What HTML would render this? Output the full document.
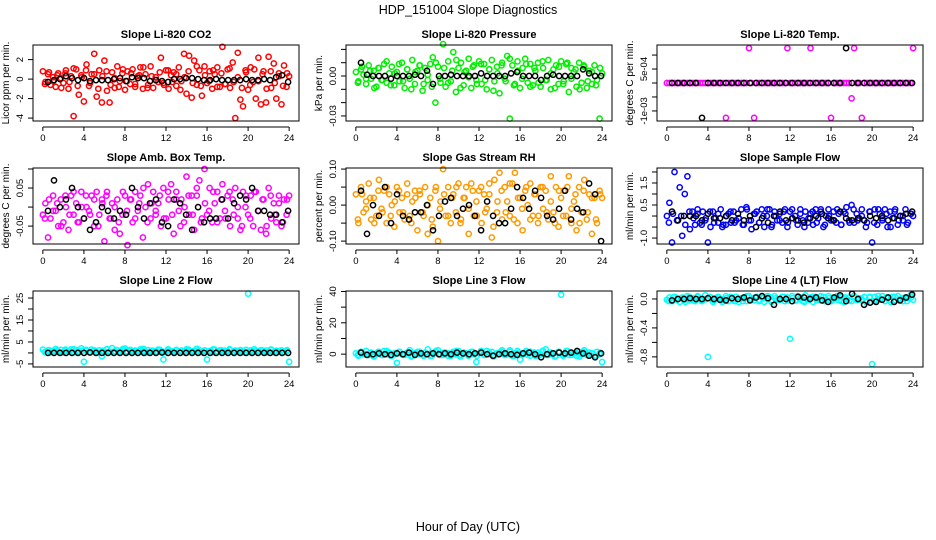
<!DOCTYPE html>
<html><head><meta charset="utf-8"><title>HDP_151004 Slope Diagnostics</title>
<style>html,body{margin:0;padding:0;background:#fff}svg{display:block;font-family:"Liberation Sans",sans-serif}</style>
</head><body>
<svg id="chart" width="936" height="540" viewBox="0 0 936 540" xmlns="http://www.w3.org/2000/svg">
<rect x="0" y="0" width="936" height="540" fill="#fff"/>
<text x="468" y="14" text-anchor="middle" font-size="12.5">HDP_151004  Slope Diagnostics</text>
<text x="468" y="531" text-anchor="middle" font-size="12.5">Hour of Day (UTC)</text>
</svg>
<script>
const hourTicks=[0,4,8,12,16,20,24];
const co2Color=[0.8,-0.3,0.5,-0.6,0.2,-0.8,0.6,0.1,-0.4,0.9,-1.0,0.3,-3.8,1.0,-1.6,0.4,-2.3,1.5,-0.7,0.5,2.6,-1.8,0.9,-2.4,1.9,-1.2,-2.4,0.7,-0.9,1.3,-0.2,0.6,-1.1,0.8,-0.5,1.0,-0.8,0.3,1.2,-1.0,0.5,-0.6,1.3,-0.9,0.2,-0.3,2.2,-0.4,0.9,-1.0,0.4,0.7,-0.7,1.2,-0.2,2.6,-1.5,2.4,-1.9,1.9,-0.6,0.9,-1.7,1.3,-0.4,0.8,-1.0,0.5,1.2,-0.8,3.3,-0.5,1.0,-0.9,1.7,-4.0,2.7,-2.1,-2.8,0.9,-1.1,1.2,-0.3,-2.0,2.2,-2.6,0.8,-2.4,2.3,-0.9,1.6,-2.0,0.6,-2.6,1.4,-0.8,0.3];
const co2Color2=[-0.5,0.7,-0.2,0.4,-0.9,0.6,-0.3,1.1,-0.7,0.2,0.9,-0.4,0.5,-1.0,0.3,0.8,-0.6,0.1,-0.8,1.0,-0.2,0.6,-0.5,0.4,1.2,-0.9,0.3,-0.1,0.7,-0.6,0.9,-0.3,0.5,-1.1,0.2,0.8,-0.4,1.3,-0.7,0.4,-0.2,0.9,-0.8,0.6,-0.5,1.1,-0.3,0.2,-0.9,0.7,-0.6,1.0,-0.2,0.5,-1.0,0.8,-0.4,0.3,-0.7,0.6];
const co2Black=[-0.3,-0.1,0.0,0.3,0.1,-0.1,0.1,-0.2,-0.1,-0.1,-0.1,0.0,0.1,-0.2,0.2,0.1,0.1,-0.2,-0.1,-0.2,-0.3,0.0,0.0,0.1,0.1,0.0,-0.1,-0.1,0.0,-0.1,-0.1,-0.1,-0.1,0.0,-0.1,-0.1,0.0,-0.1,0.2,0.4,-0.3];
const pressColor=[0.003,-0.004,0.005,0.001,-0.006,0.008,-0.002,0.004,-0.008,0.006,-0.003,0.009,-0.005,0.002,0.007,-0.007,0.003,-0.004,0.010,-0.009,0.005,-0.002,0.012,-0.006,0.004,0.008,-0.011,0.006,-0.003,0.009,0.014,-0.020,0.007,-0.005,0.024,-0.008,0.011,-0.004,0.018,-0.012,0.006,0.010,-0.007,0.004,0.013,-0.009,0.008,-0.003,0.011,-0.006,0.009,-0.010,0.005,0.012,-0.004,0.007,-0.013,0.010,-0.002,0.015,-0.032,0.008,-0.006,0.011,-0.009,0.006,0.013,-0.005,0.009,-0.007,0.004,0.010,-0.008,0.006,-0.003,0.012,-0.010,0.005,0.008,-0.006,0.011,-0.004,0.009,-0.012,0.006,0.003,-0.008,0.010,-0.005,0.007,-0.009,0.004,-0.006,0.008,-0.003,-0.032,0.002];
const pressColor2=[-0.005,0.007,-0.002,0.004,-0.009,0.006,-0.003,0.011,-0.007,0.002,0.009,-0.004,0.005,-0.010,0.003,0.008,-0.006,0.001,-0.008,0.010,-0.002,0.006,-0.005,0.004,0.012,-0.009,0.003,-0.001,0.007,-0.006,0.009,-0.003,0.005,-0.011,0.002,0.008,-0.004,0.013,-0.007,0.004,-0.002,0.009,-0.008,0.006,-0.005,0.011,-0.003,0.002,-0.009,0.007,-0.006,0.010,-0.002,0.005,-0.010,0.008,-0.004,0.003,-0.007,0.006];
const pressBlack=[0.010,0.001,0.000,0.000,0.000,-0.002,0.000,0.000,0.000,0.001,0.000,0.004,-0.006,0.000,0.000,0.001,0.000,0.000,0.000,0.000,0.002,0.000,0.000,0.000,0.000,0.002,0.003,0.000,0.000,0.000,-0.003,0.000,0.001,0.000,0.000,0.000,0.000,0.005,0.002,0.000,0.000];
const tempColor=[0,0,0,0,0,0,0,0,0,0, 0,0,0,0,0,0,0,0,0,0, 0,0,0,-1.25e-3,0,0,0,0,0,0, 0,0,1.25e-3,0,-1.25e-3,0,0,0,0,0, 0,0,0,0,0,0,0,1.25e-3,0,0, 0,0,0,0,0,0,1.25e-3,0,0,0, 0,0,0,0,-1.25e-3,0,0,0,0,0, 0,0,-5.5e-4,1.25e-3,0,0,-1.25e-3,0,0,0, 0,0,0,0,0,0,0,0,0,0, 0,0,0,0,0,0,1.25e-3];
const tempColor2=[];
const tempBlack=[0,0,0,0,0,-1.25e-3,0,0,0,0, 0,0,0,0,0,0,0,0,0,0, 0,0,0,0,0,0,0,0,0,1.25e-3, 0,0,0,0,0,0,0,0,0,0,0];
const ambColor=[-0.02,0.01,-0.08,-0.03,0.03,-0.01,-0.05,0.02,-0.04,0.00,-0.06,0.03,-0.02,0.01,-0.04,0.04,-0.03,0.00,-0.01,0.03,-0.05,0.04,-0.02,0.02,-0.09,0.04,-0.03,0.01,-0.06,0.02,-0.07,-0.02,0.03,-0.10,0.02,-0.04,0.04,-0.01,0.03,-0.08,0.00,0.06,-0.03,0.04,-0.02,0.01,-0.05,0.05,-0.03,0.02,0.06,-0.07,0.04,-0.01,0.02,-0.04,0.08,-0.02,0.03,-0.06,0.03,0.07,-0.03,0.10,-0.02,0.05,-0.04,0.01,0.04,-0.03,0.06,-0.01,0.03,-0.05,0.02,0.05,-0.03,-0.06,0.04,0.00,-0.02,0.03,-0.05,0.04,-0.01,-0.06,0.02,-0.07,0.05,-0.03,0.01,-0.04,0.03,-0.05,0.02,-0.02,0.03];
const ambColor2=[-0.03,0.02,-0.01,0.01,-0.05,0.03,-0.02,0.04,-0.04,0.00,0.03,-0.02,0.02,-0.05,0.01,0.03,-0.03,0.00,-0.04,0.04,-0.01,0.02,-0.03,0.01,0.05,-0.04,0.01,-0.01,0.03,-0.03,0.04,-0.02,0.02,-0.05,0.00,0.03,-0.02,0.05,-0.04,0.01,-0.01,0.04,-0.04,0.02,-0.03,0.04,-0.02,0.00,-0.05,0.03,-0.03,0.04,-0.01,0.02,-0.05,0.03,-0.02,0.01,-0.04,0.02];
const ambBlack=[-0.01,0.07,0.00,0.02,0.05,0.00,-0.03,-0.06,-0.04,0.00,-0.01,-0.03,-0.01,-0.02,0.05,0.00,-0.03,0.01,0.02,-0.04,-0.05,0.02,0.01,-0.02,-0.06,0.00,-0.04,-0.03,-0.03,0.02,-0.03,0.01,0.03,0.02,0.05,-0.01,-0.01,-0.02,-0.02,-0.04,-0.01];
const rhColor=[0.03,-0.05,0.05,-0.02,0.01,0.06,-0.04,0.02,-0.03,0.07,-0.01,0.04,-0.05,0.03,0.00,-0.06,0.05,-0.02,0.02,-0.04,0.06,-0.03,0.01,0.04,-0.07,0.03,-0.02,0.05,-0.08,0.02,-0.06,0.04,-0.10,0.01,0.10,-0.03,0.05,-0.05,0.03,-0.02,0.06,-0.04,0.02,0.05,-0.08,0.06,-0.03,0.01,0.04,-0.05,0.03,-0.01,0.06,-0.09,0.07,-0.02,0.09,-0.04,0.05,0.01,-0.03,0.06,0.09,-0.05,0.02,-0.07,0.04,0.00,0.06,-0.03,0.03,-0.05,0.05,-0.01,0.04,-0.04,0.08,-0.02,0.05,-0.06,0.02,0.04,-0.03,0.08,-0.05,0.01,-0.07,0.05,-0.02,0.07,-0.04,0.03,-0.08,0.02,-0.05,0.04,0.02];
const rhColor2=[-0.04,0.03,-0.01,0.02,-0.05,0.04,-0.02,0.05,-0.03,0.01,0.04,-0.02,0.03,-0.05,0.02,0.04,-0.03,0.00,-0.04,0.05,-0.01,0.03,-0.03,0.02,0.05,-0.05,0.02,-0.01,0.04,-0.03,0.05,-0.02,0.03,-0.06,0.01,0.04,-0.02,0.06,-0.04,0.02,-0.01,0.05,-0.04,0.03,-0.03,0.05,-0.02,0.01,-0.05,0.04,-0.03,0.05,-0.01,0.03,-0.05,0.04,-0.02,0.02,-0.04,0.03];
const rhBlack=[0.04,-0.08,0.00,-0.03,0.05,-0.05,0.03,-0.03,-0.04,-0.02,-0.02,0.00,-0.07,-0.03,0.01,0.02,-0.03,-0.01,0.00,-0.03,-0.07,0.01,-0.03,-0.05,-0.05,-0.01,0.05,0.02,-0.01,0.04,0.02,-0.03,-0.04,-0.01,0.04,-0.04,-0.01,-0.02,0.06,0.03,-0.10];
const flowColor=[0.0,0.6,-1.2,2.0,-0.2,1.3,-0.9,1.0,1.8,-0.6,0.2,-0.4,0.1,-0.3,0.2,-0.2,-1.2,-0.5,0.2,-0.1,-0.3,0.3,-0.4,-0.4,0.1,-0.3,0.2,-0.2,-0.1,0.3,-0.4,0.4,-0.2,-0.6,0.1,0.2,-0.3,0.3,-0.5,0.0,0.3,-0.4,0.2,-0.2,0.1,-0.3,0.3,-0.5,0.2,-0.1,0.0,-0.4,0.3,-0.2,0.2,-0.3,0.1,-0.4,0.3,-0.1,0.2,-0.5,0.0,0.3,-0.2,0.2,-0.3,0.1,-0.4,0.2,0.4,-0.2,0.5,-0.3,0.1,-0.1,0.3,-0.2,-0.3,0.2,-1.2,0.3,-0.4,0.1,-0.2,0.3,-0.5,0.2,-0.1,0.3,-0.4,0.0,-0.2,0.3,-0.3,0.1,0.0];
const flowColor2=[-0.3,0.1,-0.2,0.0,-0.4,0.2,-0.1,0.3,-0.4,-0.1,0.2,-0.3,0.1,-0.5,0.0,0.2,-0.3,-0.1,-0.4,0.3,-0.2,0.1,-0.3,0.0,0.3,-0.5,0.0,-0.2,0.2,-0.3,0.3,-0.2,0.1,-0.5,-0.1,0.2,-0.3,0.3,-0.4,0.0,-0.2,0.3,-0.4,0.1,-0.3,0.3,-0.2,0.0,-0.5,0.2,-0.3,0.3,-0.1,0.1,-0.5,0.2,-0.2,0.0,-0.4,0.1];
const flowBlack=[0.2,-0.2,0.0,0.0,0.0,-0.2,0.1,-0.1,-0.1,0.0,-0.2,0.1,-0.2,0.0,-0.5,-0.1,-0.3,0.0,0.2,-0.2,-0.1,-0.2,-0.3,-0.1,0.0,0.1,-0.1,-0.2,0.2,-0.1,-0.2,-0.1,-0.2,0.0,-0.1,0.0,-0.2,-0.1,0.0,0.1,0.2];
const line2Color=[1.5,0.5,1.2,0.3,1.0,1.8,0.6,1.4,0.2,1.1,0.8,1.6,0.4,1.3,0.7,2.1,-4.0,1.0,0.3,1.5,0.9,0.2,1.2,-1.5,0.6,1.7,0.4,2.2,0.8,1.3,0.5,1.0,2.0,0.3,1.4,0.7,1.1,0.2,1.6,0.9,0.4,1.3,0.6,1.0,0.3,1.5,0.8,-3.0,0.5,1.2,0.9,0.3,1.4,0.7,1.1,0.4,1.6,0.8,0.2,1.0,0.6,1.3,0.4,1.1,-3.0,0.9,0.3,1.5,0.7,1.2,0.5,1.0,0.8,1.4,0.3,1.1,0.6,1.3,0.9,0.4,27.0,1.2,0.5,1.0,0.8,1.3,0.4,1.1,0.7,1.5,0.3,1.0,0.6,1.2,0.4,0.8,-4.0];
const line2Color2=[0.4,1.3,0.8,1.0,0.2,1.5,0.6,1.7,0.3,0.9,1.4,0.5,1.2,0.1,1.0,1.6,0.4,0.8,0.3,1.8,0.7,1.1,0.5,1.0,1.9,0.2,1.0,0.7,1.4,0.5,1.6,0.6,1.2,0.1,0.9,1.5,0.5,1.9,0.3,1.1,0.7,1.6,0.3,1.2,0.5,1.7,0.6,0.9,0.2,1.4,0.4,1.7,0.8,1.1,0.2,1.5,0.6,0.9,0.3,1.3];
const line2Black=[0,0,0,0,0,0,0,0.2,0,0,0,0,0,0,0,0,0,0,0,0.2,0,0,0,0,0,0,0,0,0,0,0,0,0,0,0,0,0,0,0,0,0];
const line3Color=[0.5,-1.0,1.5,0.0,2.0,-0.5,1.0,-1.5,0.5,1.5,-0.5,2.0,0.0,1.0,-1.0,0.5,-5.5,1.5,0.0,-0.5,1.0,2.5,-1.0,0.5,1.5,0.0,-0.5,1.0,3.0,-1.0,0.5,1.5,2.5,0.0,-0.5,1.0,0.5,-1.0,1.5,0.0,2.0,-0.5,1.0,0.5,-1.0,1.5,0.0,-5.0,0.5,1.0,-0.5,2.0,0.0,1.5,-1.0,0.5,1.0,2.5,-0.5,0.0,1.5,-1.0,0.5,2.0,-3.5,0.0,1.0,-0.5,1.5,0.5,-1.0,1.0,0.0,2.0,3.0,-0.5,1.0,0.5,-1.0,1.5,38.0,0.0,2.0,-0.5,1.0,0.5,-1.0,1.5,0.0,2.5,-0.5,1.0,0.5,-1.0,1.5,0.0,-5.0];
const line3Color2=[-0.5,1.0,0.0,0.5,-1.0,1.5,-0.5,2.0,-1.0,0.0,1.5,-0.5,1.0,-1.5,0.5,1.5,-1.0,0.0,-1.0,2.0,-0.5,1.0,-1.0,0.5,2.0,-1.5,0.5,-0.5,1.5,-1.0,2.0,-0.5,1.0,-1.5,0.0,1.5,-0.5,2.5,-1.0,0.5,-0.5,2.0,-1.0,1.0,-1.0,2.0,-0.5,0.0,-1.5,1.5,-1.0,2.0,-0.5,1.0,-1.5,1.5,-0.5,0.5,-1.0,1.0];
const line3Black=[1.0,-0.5,0.0,0.5,0.0,-0.5,0.5,0.0,1.0,-0.5,0.5,0.0,0.5,0.0,0.5,0.0,1.0,0.5,0.0,0.5,1.0,0.0,-1.0,0.0,0.5,0.0,-0.5,0.5,1.0,0.0,-2.0,0.0,0.5,1.0,0.5,1.0,2.0,0.5,-1.0,-2.0,0.5];
const line4Color=[-0.01,0.02,-0.03,0.03,0.00,-0.04,0.02,-0.01,0.04,-0.02,0.01,-0.03,0.03,0.00,-0.02,0.05,-0.80,0.02,-0.04,0.01,0.03,-0.02,0.00,0.04,-0.03,0.02,-0.01,0.03,-0.04,0.01,0.02,-0.03,0.04,0.00,-0.02,0.03,-0.01,0.02,-0.04,0.01,0.03,-0.02,0.04,-0.01,0.00,0.03,-0.03,0.02,-0.55,0.01,-0.02,0.04,0.00,-0.03,0.05,-0.01,0.02,-0.04,0.03,0.00,-0.02,0.03,-0.01,0.04,-0.03,0.01,0.02,-0.02,0.03,-0.04,0.00,0.02,-0.03,0.04,-0.01,0.01,-0.02,0.03,-0.04,0.02,-0.90,0.03,-0.02,0.00,0.04,-0.03,0.01,-0.01,0.03,-0.02,0.04,0.00,-0.03,0.02,0.01,0.05,-0.01];
const line4Color2=[-0.03,0.02,-0.01,0.01,-0.04,0.03,-0.02,0.04,-0.03,0.00,0.03,-0.02,0.02,-0.04,0.01,0.03,-0.03,0.00,-0.03,0.04,-0.01,0.02,-0.03,0.01,0.04,-0.04,0.01,-0.01,0.03,-0.02,0.04,-0.02,0.02,-0.04,0.00,0.03,-0.02,0.04,-0.03,0.01,-0.01,0.04,-0.03,0.02,-0.02,0.04,-0.01,0.00,-0.04,0.03,-0.03,0.04,-0.01,0.02,-0.04,0.03,-0.02,0.01,-0.03,0.02];
const line4Black=[-0.02,0.00,0.00,0.01,0.00,0.00,0.01,0.00,-0.01,-0.02,0.01,0.00,0.02,-0.02,0.02,0.04,0.01,-0.08,0.00,0.00,-0.03,0.03,0.02,0.00,0.02,-0.02,-0.04,0.02,0.05,-0.03,0.07,0.00,-0.08,-0.05,-0.04,-0.01,0.02,-0.04,-0.02,0.02,0.06];

const panels=[
 {name:'co2',title:'Slope Li-820 CO2',ylab:'Licor ppm per min.',color:'#ff0000',vals:co2Color,vals2:co2Color2,blk:co2Black,x:33,y:45,ylim:[-4.3,3.5],ticks:[-4,-2,0,2],labels:['-4','-2','0','2']},
 {name:'pressure',title:'Slope Li-820 Pressure',ylab:'kPa per min.',color:'#00ee00',vals:pressColor,vals2:pressColor2,blk:pressBlack,x:346,y:45,ylim:[-0.0338,0.0233],ticks:[-0.03,-0.02,-0.01,0,0.01,0.02],labels:['-0.03','','','0.00','','']},
 {name:'temp',title:'Slope Li-820 Temp.',ylab:'degrees C per min.',color:'#ff00ff',vals:tempColor,vals2:tempColor2,blk:tempBlack,x:657,y:45,ylim:[-1.36e-3,1.36e-3],ticks:[-1e-3,-5e-4,0,5e-4,1e-3],labels:['-1e-03','','','5e-04','']},
 {name:'amb-box-temp',title:'Slope Amb. Box Temp.',ylab:'degrees C per min.',color:'#ff00ff',vals:ambColor,vals2:ambColor2,blk:ambBlack,x:33,y:168,ylim:[-0.097,0.1026],ticks:[-0.05,0,0.05,0.1],labels:['-0.05','','0.05','']},
 {name:'gas-stream-rh',title:'Slope Gas Stream RH',ylab:'percent per min.',color:'#ff9900',vals:rhColor,vals2:rhColor2,blk:rhBlack,x:346,y:168,ylim:[-0.108,0.103],ticks:[-0.1,-0.05,0,0.05,0.1],labels:['-0.10','','0.00','','0.10']},
 {name:'sample-flow',title:'Slope Sample Flow',ylab:'ml/min per min.',color:'#0000ff',vals:flowColor,vals2:flowColor2,blk:flowBlack,x:657,y:168,ylim:[-1.27,2.18],ticks:[-1,-0.5,0,0.5,1,1.5,2],labels:['-1.0','','','0.5','','1.5','']},
 {name:'line2-flow',title:'Slope Line 2 Flow',ylab:'ml/min per min.',color:'#00ffff',vals:line2Color,vals2:line2Color2,blk:line2Black,x:33,y:291,ylim:[-6.4,28.2],ticks:[-5,0,5,10,15,20,25],labels:['-5','','5','','15','','25']},
 {name:'line3-flow',title:'Slope Line 3 Flow',ylab:'ml/min per min.',color:'#00ffff',vals:line3Color,vals2:line3Color2,blk:line3Black,x:346,y:291,ylim:[-8.2,40.3],ticks:[0,10,20,30,40],labels:['0','','20','','40']},
 {name:'line4-flow',title:'Slope Line 4 (LT) Flow',ylab:'ml/min per min.',color:'#00ffff',vals:line4Color,vals2:line4Color2,blk:line4Black,x:657,y:291,ylim:[-0.94,0.11],ticks:[-0.8,-0.6,-0.4,-0.2,0],labels:['-0.8','','-0.4','','0.0']}
];
const NS='http://www.w3.org/2000/svg';
const svg=document.getElementById('chart');
function mk(tag,attrs,parent){const e=document.createElementNS(NS,tag);for(const k in attrs)e.setAttribute(k,attrs[k]);(parent||svg).appendChild(e);return e;}
const W=266,H=76;
panels.forEach(p=>{
 const g=mk('g',{});
 
 
 const xs=h=>p.x+(h+0.96)/25.92*W;
 const ys=v=>p.y+H-(v-p.ylim[0])/(p.ylim[1]-p.ylim[0])*H;
 const t=mk('text',{x:p.x+W/2,y:p.y-7,'text-anchor':'middle','font-size':'11','font-weight':'bold'},g);
 t.textContent=p.title;
 
 
 const yt=mk('text',{transform:`translate(${p.x-24},${p.y+H/2}) rotate(-90)`,'text-anchor':'middle','font-size':'10'},g);
 yt.textContent=p.ylab;
 
 
 const pts=mk('g',{fill:'none'},g);
 
 
 const n=p.vals.length;
 p.vals.forEach((v,i)=>{
  const c=mk('circle',{cx:xs(24*i/(n-1)).toFixed(1),cy:ys(v).toFixed(1),r:2.6,stroke:p.color,'stroke-width':1.5},pts);
  
  
 });
 const n2=p.vals2.length;
 p.vals2.forEach((v,i)=>{
  const c=mk('circle',{cx:xs(24*(i+0.5)/n2).toFixed(1),cy:ys(v).toFixed(1),r:2.6,stroke:p.color,'stroke-width':1.5},pts);
  
  
 });
 const bp=mk('g',{fill:'none'},g);
 
 
 const m=p.blk.length;
 p.blk.forEach((v,i)=>{
  const c=mk('circle',{cx:xs(0.5+23.4*i/(m-1)).toFixed(1),cy:ys(v).toFixed(1),r:2.6,stroke:'#000','stroke-width':1.5},bp);
  
  
 });
 const box=mk('rect',{x:p.x,y:p.y,width:W,height:H,fill:'none',stroke:'#000','stroke-width':1},g);
 
 
 const ya=mk('g',{},g);
 
 
 mk('line',{x1:p.x,x2:p.x,y1:ys(p.ticks[0]),y2:ys(p.ticks[p.ticks.length-1]),stroke:'#000'},ya);
 p.ticks.forEach((tv,i)=>{
  const yy=ys(tv);
  mk('line',{x1:p.x-5,x2:p.x,y1:yy,y2:yy,stroke:'#000'},ya);
  if(p.labels[i]){
   const l=mk('text',{transform:`translate(${p.x-10},${yy}) rotate(-90)`,'text-anchor':'middle','font-size':'9.5'},ya);
   l.textContent=p.labels[i];
   
   
  }
 });
 const xa=mk('g',{},g);
 
 
 const ay=p.y+H+6;
 mk('line',{x1:xs(hourTicks[0]),x2:xs(hourTicks[hourTicks.length-1]),y1:ay,y2:ay,stroke:'#000'},xa);
 hourTicks.forEach(h=>{
  mk('line',{x1:xs(h),x2:xs(h),y1:ay,y2:ay+4,stroke:'#000'},xa);
  const l=mk('text',{x:xs(h),y:p.y+H+20,'text-anchor':'middle','font-size':'9.5'},xa);
  l.textContent=String(h);
  
  
 });
 mk('text',{x:p.x+W/2-4,y:p.y+H+20,'font-size':'8'},g).textContent='.';
});
</script>
</body></html>
